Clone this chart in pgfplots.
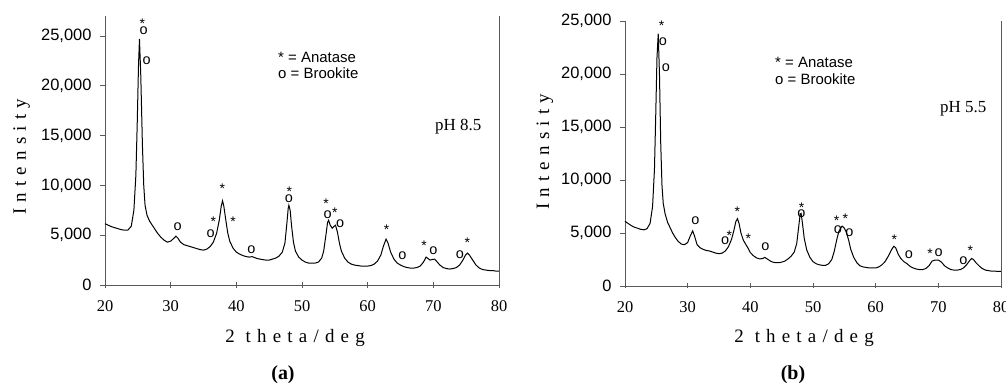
\documentclass[border=0pt]{standalone}
\usepackage{fontspec}
\setmainfont{Liberation Serif}
\setsansfont{Liberation Sans}
\usepackage{pgfplots}
\pgfplotsset{compat=1.18}
\newlength\lsp
\setlength\lsp{6.2bp}
\def\spaced#1{\spacedi#1\relax}
\def\spacedi#1{\ifx#1\relax\else#1\hspace{\lsp}\expandafter\spacedi\fi}
\newcommand\axlab{\fontsize{19}{19}\selectfont}

\pgfplotstableread{
x y
20.0 6150
20.5 6000
21.0 5850
21.5 5750
22.0 5650
22.5 5550
23.0 5500
23.5 5520
24.0 5900
24.4 7500
24.7 11000
24.9 16000
25.1 22000
25.25 24700
25.45 21000
25.7 14000
25.9 10000
26.1 8000
26.4 7000
26.8 6400
27.2 6000
27.6 5600
28.0 5200
28.5 4800
29.0 4500
29.5 4300
30.0 4400
30.5 4700
30.8 4900
31.1 4700
31.5 4300
32.0 4050
32.5 3950
33.0 3850
33.5 3750
34.0 3650
34.5 3550
35.0 3500
35.5 3600
36.0 3850
36.5 4300
37.0 5200
37.4 6500
37.7 7900
37.9 8450
38.1 7900
38.4 6500
38.7 5200
39.0 4400
39.5 3700
40.0 3300
40.5 3100
41.0 2950
41.5 2850
42.0 2800
42.4 2850
42.8 2750
43.2 2650
43.6 2600
44.0 2550
44.5 2500
45.0 2500
45.5 2600
46.0 2700
46.5 2900
47.0 3300
47.4 4200
47.7 6200
47.9 7700
48.0 8000
48.2 7500
48.4 6000
48.7 4300
49.0 3400
49.5 2800
50.0 2500
50.5 2300
51.0 2200
51.5 2200
52.0 2200
52.5 2300
53.0 2700
53.3 3400
53.6 4800
53.9 6300
54.05 6500
54.3 6000
54.6 5700
54.9 5900
55.1 6000
55.4 5300
55.7 4200
56.0 3400
56.5 2700
57.0 2300
57.5 2100
58.0 2000
58.5 1950
59.0 1900
59.5 1900
60.0 1900
60.5 1950
61.0 2100
61.5 2400
62.0 3000
62.4 3900
62.8 4600
63.1 4200
63.5 3300
64.0 2600
64.5 2200
65.0 2000
65.5 1850
66.0 1750
66.5 1700
67.0 1700
67.5 1750
68.0 1900
68.5 2300
68.9 2800
69.2 2650
69.5 2500
69.8 2550
70.2 2600
70.6 2300
71.0 2000
71.5 1750
72.0 1650
72.5 1600
73.0 1650
73.5 1750
74.0 2000
74.5 2500
74.9 3000
75.2 3200
75.5 3000
76.0 2500
76.5 2000
77.0 1700
77.5 1550
78.0 1500
78.5 1450
79.0 1450
79.5 1400
80.0 1400
}\dataA

\pgfplotstableread{
x y
20.0 6100
20.5 5900
21.0 5700
21.5 5550
22.0 5450
22.5 5350
23.0 5300
23.5 5400
24.0 5900
24.4 7500
24.7 11000
24.9 16000
25.1 21500
25.3 23800
25.5 20000
25.7 13500
25.9 9500
26.1 7800
26.4 6800
26.8 6000
27.2 5500
27.6 5000
28.0 4600
28.5 4200
29.0 3950
29.5 3900
30.0 4100
30.4 4700
30.8 5200
31.1 4700
31.5 3900
32.0 3600
32.5 3450
33.0 3350
33.5 3300
34.0 3200
34.5 3100
35.0 3050
35.5 3100
36.0 3300
36.5 3700
37.0 4400
37.4 5300
37.7 6100
37.95 6350
38.2 5900
38.5 5000
38.9 4300
39.3 3900
39.7 3500
40.0 3150
40.5 2850
41.0 2650
41.5 2550
42.0 2600
42.3 2700
42.7 2550
43.2 2350
43.6 2250
44.0 2200
44.5 2200
45.0 2250
45.5 2350
46.0 2550
46.5 2800
47.0 3200
47.4 4000
47.7 5500
47.95 6800
48.1 6850
48.3 6000
48.6 4500
49.0 3400
49.5 2700
50.0 2300
50.5 2100
51.0 2000
51.5 1950
52.0 1950
52.5 2100
53.0 2500
53.4 3300
53.8 4400
54.1 5100
54.4 5450
54.65 5650
55.0 5450
55.3 5100
55.7 4300
56.0 3500
56.5 2700
57.0 2200
57.5 1900
58.0 1800
58.5 1750
59.0 1700
59.5 1700
60.0 1700
60.5 1800
61.0 2000
61.5 2300
62.0 2800
62.5 3400
62.9 3750
63.2 3600
63.6 3000
64.0 2600
64.5 2300
65.0 2100
65.5 1850
66.0 1700
66.5 1600
67.0 1550
67.5 1550
68.0 1650
68.5 1900
69.0 2350
69.5 2450
70.0 2450
70.5 2250
71.0 1900
71.5 1700
72.0 1550
72.5 1500
73.0 1500
73.5 1550
74.0 1700
74.5 2000
75.0 2400
75.3 2600
75.6 2500
76.0 2200
76.5 1900
77.0 1650
77.5 1500
78.0 1450
78.5 1400
79.0 1400
79.5 1380
80.0 1380
}\dataB

\pgfplotsset{
  xrd/.style={
    scale only axis,
    axis x line*=bottom, axis y line*=left,
    axis line style={black!65, line width=0.8bp},
    every tick/.style={black!65, line width=0.8bp},
    ytick align=outside,
    xtick align=center,
    major tick length=5bp,
    scaled y ticks=false,
    xmin=20, xmax=80, ymin=0,
    xtick={20,30,...,80},
    xticklabels={20,30,40,50,60,70,80},
    ytick={0,5000,...,25000},
    yticklabels={0,{5,000},{10,000},{15,000},{20,000},{25,000}},
    /pgf/number format/assume math mode=true,
    xticklabel style={font=\fontsize{16.5}{16.5}\selectfont, yshift=-10bp},
    yticklabel style={font=\sffamily\fontsize{16.5}{16.5}\selectfont, xshift=-5bp},
    clip=false,
  },
}
\tikzset{
  star/.style={font=\sffamily\fontsize{14}{14}\selectfont, inner sep=0pt, yshift=-3bp},
  circ/.style={font=\sffamily\fontsize{14.5}{14.5}\selectfont, inner sep=0pt},
  leg/.style={font=\sffamily\fontsize{15}{15}\selectfont, inner sep=0pt, anchor=west},
  ph/.style={font=\fontsize{17}{17}\selectfont, inner sep=0pt, anchor=west},
  subcap/.style={font=\fontsize{20}{20}\selectfont\bfseries, inner sep=0pt},
}

\begin{document}
\begin{tikzpicture}
\useasboundingbox (0,0) rectangle (1006bp,383bp);

% ---------- panel (a)
\begin{axis}[xrd, at={(105bp,98bp)}, anchor=south west,
  width=394bp, height=269bp, ymax=27000]
\addplot[black, line width=1bp, mark=none] table[x=x,y=y] {\dataA};
\draw[black!65, line width=0.8bp] (rel axis cs:1,0) -- (rel axis cs:1,1);
\node[star] at (axis cs:25.68,26540) {*};
\node[circ] at (axis cs:25.9,25500) {o};
\node[circ] at (axis cs:26.35,22520) {o};
\node[circ] at (axis cs:31.07,5860) {o};
\node[star] at (axis cs:36.5,6630) {*};
\node[circ] at (axis cs:36.1,5120) {o};
\node[star] at (axis cs:37.87,10010) {*};
\node[star] at (axis cs:39.5,6690) {*};
\node[circ] at (axis cs:42.28,3510) {o};
\node[star] at (axis cs:48.07,9670) {*};
\node[circ] at (axis cs:48.0,8630) {o};
\node[star] at (axis cs:53.65,8470) {*};
\node[circ] at (axis cs:53.9,7030) {o};
\node[star] at (axis cs:55.0,7560) {*};
\node[circ] at (axis cs:55.8,6160) {o};
\node[star] at (axis cs:62.9,5860) {*};
\node[circ] at (axis cs:65.28,2910) {o};
\node[star] at (axis cs:68.58,4280) {*};
\node[circ] at (axis cs:70.0,3440) {o};
\node[circ] at (axis cs:74.06,3080) {o};
\node[star] at (axis cs:75.17,4580) {*};
\node[leg] at (axis cs:46.35,22860) {* = Anatase};
\node[leg] at (axis cs:46.35,21250) {o = Brookite};
\node[ph] at (axis cs:70.25,15890) {pH 8.5};
\end{axis}
\node[rotate=90, font=\axlab] at (21.7bp,226.3bp) {\spaced{Intensity}};
\node[font=\axlab] at (295bp,45bp) {2\hspace{11bp}\spaced{theta/deg}};
\node[subcap] at (283bp,8bp) {(a)};

% ---------- panel (b)
\begin{axis}[xrd, at={(625bp,97bp)}, anchor=south west,
  width=376bp, height=265bp, ymax=25000]
\addplot[black, line width=1bp, mark=none] table[x=x,y=y] {\dataB};
\draw[black!65, line width=0.8bp] (rel axis cs:1,0) -- (rel axis cs:1,1);
\node[star] at (axis cs:25.85,24840) {*};
\node[circ] at (axis cs:26.06,23080) {o};
\node[circ] at (axis cs:26.54,20630) {o};
\node[circ] at (axis cs:31.22,6200) {o};
\node[circ] at (axis cs:35.96,4280) {o};
\node[star] at (axis cs:36.64,5060) {*};
\node[star] at (axis cs:37.92,7260) {*};
\node[star] at (axis cs:39.68,4750) {*};
\node[circ] at (axis cs:42.39,3710) {o};
\node[star] at (axis cs:48.19,7640) {*};
\node[circ] at (axis cs:48.14,6790) {o};
\node[star] at (axis cs:53.77,6440) {*};
\node[circ] at (axis cs:53.99,5280) {o};
\node[star] at (axis cs:55.16,6600) {*};
\node[circ] at (axis cs:55.8,5030) {o};
\node[star] at (axis cs:62.98,4650) {*};
\node[circ] at (axis cs:65.32,2990) {o};
\node[star] at (axis cs:68.67,3300) {*};
\node[circ] at (axis cs:70.06,3140) {o};
\node[circ] at (axis cs:73.98,2360) {o};
\node[star] at (axis cs:75.1,3650) {*};
\node[leg] at (axis cs:43.94,21070) {* = Anatase};
\node[leg] at (axis cs:43.94,19500) {o = Brookite};
\node[ph] at (axis cs:70.26,16765) {pH 5.5};
\end{axis}
\node[rotate=90, font=\axlab] at (545bp,231.3bp) {\spaced{Intensity}};
\node[font=\axlab] at (804bp,45bp) {2\hspace{11bp}\spaced{theta/deg}};
\node[subcap] at (793bp,8bp) {(b)};
\end{tikzpicture}
\end{document}
